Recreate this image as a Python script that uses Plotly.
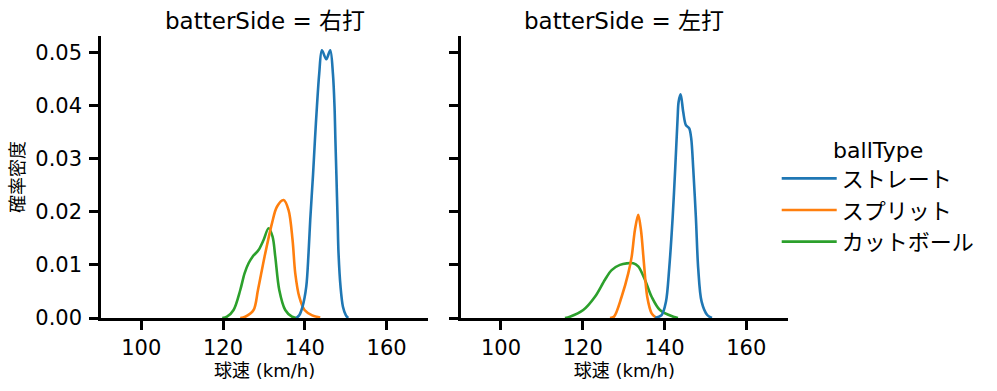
import plotly.graph_objects as go

# ---- data (KDE curves, x = 球速 km/h, y = 確率密度) ----
ball_types = ["ストレート", "スプリット", "カットボール"]
panel_titles = ["batterSide = 右打", "batterSide = 左打"]
colors = ["#1f77b4", "#ff7f0e", "#2ca02c"]

# 右打
r_straight_x = [137.9, 138.63, 139.44, 140.35, 140.91, 141.32, 142.0, 142.47, 142.96, 143.52, 144.18,
                145.24, 146.21, 146.87, 147.26, 147.48, 147.72, 148.02, 148.24, 148.73, 149.32, 150.05, 150.6]
r_straight_y = [0.0, 0.0005, 0.00213, 0.00589, 0.01223, 0.01844, 0.0269, 0.0335, 0.0398, 0.0460, 0.0504,
                0.0487, 0.0504, 0.0460, 0.0398, 0.0335, 0.0269, 0.01844, 0.01223, 0.00589, 0.00213, 0.0005, 0.0]
r_split_x = [124.2, 125.43, 127.46, 128.54, 130.15, 131.96, 133.18, 134.80, 136.02, 137.0, 137.66,
             138.63, 139.93, 141.8, 143.77]
r_split_y = [0.0, 0.00024, 0.0015, 0.00527, 0.01154, 0.01782, 0.02094, 0.0222, 0.02032, 0.01468, 0.00841,
             0.00401, 0.0015, 0.0005, 0.0001]
r_cut_x = [119.8, 120.96, 122.57, 124.21, 125.26, 126.24, 127.22, 128.68, 129.91, 131.13, 132.11,
           132.77, 133.75, 135.21, 136.85, 137.9]
r_cut_y = [0.0, 0.00024, 0.0015, 0.00527, 0.00841, 0.0103, 0.01154, 0.01279, 0.01468, 0.01688, 0.0153,
           0.01154, 0.00527, 0.0015, 0.00024, 0.0]

# 左打
l_straight_x = [137.66, 139.29, 140.35, 141.15, 141.98, 142.62, 143.2, 143.45, 143.94, 144.57, 145.23,
                146.04, 146.53, 147.02, 147.68, 148.24, 149.07, 150.44, 151.6]
l_straight_y = [0.0, 0.00056, 0.00307, 0.00935, 0.0188, 0.0282, 0.0376, 0.0407, 0.0421, 0.0388, 0.0363,
                0.0357, 0.0338, 0.0282, 0.0188, 0.00935, 0.00307, 0.00056, 0.0]
l_split_x = [126.65, 127.63, 129.51, 131.13, 131.96, 132.77, 133.57, 134.23, 134.97, 135.77, 136.85, 138.07]
l_split_y = [0.0, 0.00024, 0.004, 0.0084, 0.0115, 0.0166, 0.0194, 0.0166, 0.0103, 0.004, 0.00088, 0.0]
l_cut_x = [115.65, 116.87, 120.12, 122.99, 125.43, 127.07, 129.1, 132.35, 133.57, 135.21, 136.85,
           138.88, 142.13, 143.3]
l_cut_y = [0.0, 0.00024, 0.0015, 0.004, 0.0072, 0.0090, 0.0100, 0.0103, 0.0097, 0.0072, 0.004,
           0.0015, 0.00024, 0.0]

x_tick_vals = [100, 120, 140, 160]
y_tick_vals = [0.00, 0.01, 0.02, 0.03, 0.04, 0.05]
x_label = "球速 (km/h)"
y_label = "確率密度"
legend_title = "ballType"

FONT = "DejaVu Sans, Noto Sans CJK JP"
W, H = 997, 391
ML, MR, MT, MB = 100.7, 208.7, 36, 73

panels = [
    [(r_straight_x, r_straight_y), (r_split_x, r_split_y), (r_cut_x, r_cut_y)],
    [(l_straight_x, l_straight_y), (l_split_x, l_split_y), (l_cut_x, l_cut_y)],
]

fig = go.Figure()
for p, series in enumerate(panels):
    xa = "x" if p == 0 else "x2"
    ya = "y" if p == 0 else "y2"
    # draw in reverse hue order so ストレート ends on top (as seaborn does)
    for i in reversed(range(3)):
        xs, ys = series[i]
        fig.add_trace(go.Scatter(
            x=xs, y=ys, mode="lines", name=ball_types[i],
            line=dict(color=colors[i], width=2.6, shape="spline", smoothing=0.9),
            xaxis=xa, yaxis=ya, showlegend=(p == 0), legendrank=i + 1,
            hoverinfo="skip",
        ))

plot_w = W - ML - MR
plot_h = H - MT - MB
d1 = [0, 327.6 / plot_w]
d2 = [360 / plot_w, 1]

axis_common = dict(
    showline=True, linecolor="black", linewidth=2.5, mirror=False,
    ticks="outside", ticklen=9, tickwidth=2.5, tickcolor="black",
    showgrid=False, zeroline=False, automargin=False,
    tickfont=dict(family=FONT, size=21, color="black"),
)

fig.update_layout(
    width=W, height=H, template="none",
    paper_bgcolor="white", plot_bgcolor="white",
    margin=dict(l=ML, r=MR, t=MT, b=MB, pad=0),
    font=dict(family=FONT, color="black"),
    showlegend=True,
    xaxis=dict(domain=d1, range=[90.15, 170.2], tickvals=x_tick_vals, anchor="y",
               title=dict(text=x_label, font=dict(family=FONT, size=18), standoff=3),
               **axis_common),
    xaxis2=dict(domain=d2, range=[90.15, 170.2], tickvals=x_tick_vals, anchor="y2",
                title=dict(text=x_label, font=dict(family=FONT, size=18), standoff=3),
                **axis_common),
    yaxis=dict(domain=[0, 1], range=[0, 0.05307], tickvals=y_tick_vals, tickformat=".2f", anchor="x",
               ticklabelstandoff=3,
               title=dict(text=y_label, font=dict(family=FONT, size=18), standoff=6),
               **axis_common),
    yaxis2=dict(domain=[0, 1], range=[0, 0.05307], tickvals=y_tick_vals, showticklabels=False, anchor="x2",
                **axis_common),
    legend=dict(
        x=1.0 + (777 - (W - MR)) / plot_w, xanchor="left",
        y=1 - (196 - MT) / plot_h, yanchor="middle",
        title=dict(text=legend_title, side="top center", font=dict(family=FONT, size=22)),
        font=dict(family=FONT, size=22), bgcolor="rgba(0,0,0,0)", borderwidth=0,
        itemwidth=55,
    ),
)

for p, t in enumerate(panel_titles):
    dom = d1 if p == 0 else d2
    fig.add_annotation(
        text=t, x=(dom[0] + dom[1]) / 2, xref="paper", y=1 + (MT - 21) / plot_h, yref="paper",
        xanchor="center", yanchor="middle", showarrow=False,
        font=dict(family=FONT, size=23, color="black"),
    )

fig.write_html("out.html", config={"displayModeBar": False},
               post_script="document.body.style.margin='0';document.body.style.padding='0';")
